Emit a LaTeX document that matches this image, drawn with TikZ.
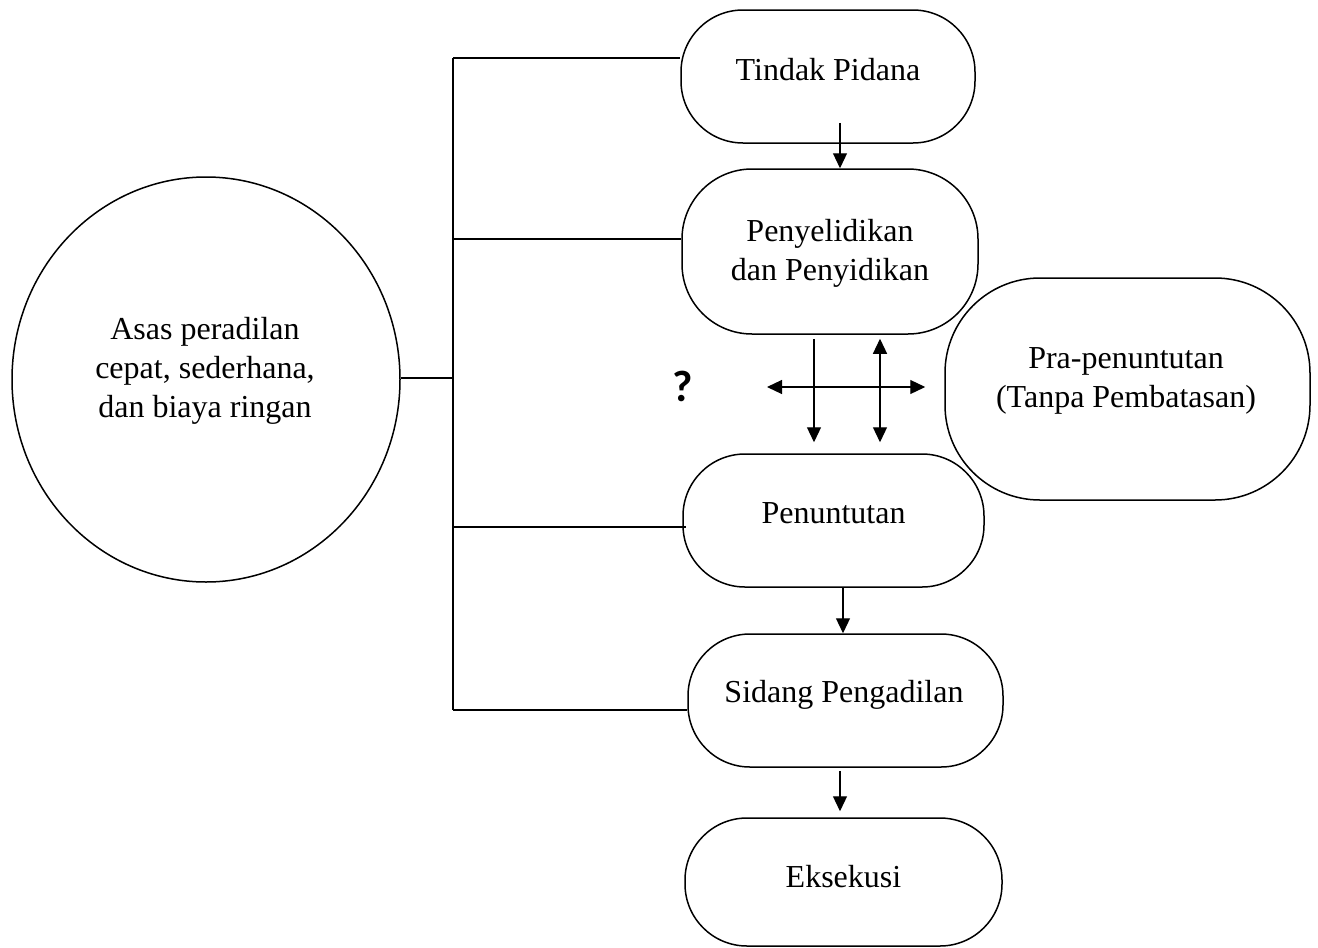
\documentclass[tikz,border=0pt]{standalone}
\usepackage{fontspec}
\setmainfont{Liberation Serif}
\newfontfamily\qfont{Carlito}
\usetikzlibrary{arrows.meta,shapes.geometric}
\begin{document}
\begin{tikzpicture}[x=1pt,y=-1pt,
  box/.style={draw, line width=1.5pt, rounded corners=62pt, inner sep=0pt},
  lbl/.style={font=\fontsize{32}{39}\selectfont, align=center, inner sep=0pt},
  ln/.style={line width=1.2pt},
  arr/.style={line width=1.2pt, -{Triangle[length=15pt,width=14pt]}},
  darr/.style={line width=1.2pt, {Triangle[length=15pt,width=14pt]}-{Triangle[length=15pt,width=14pt]}}]
\useasboundingbox (0,0) rectangle (1318,948);

% boxes
\node[box, minimum width=294pt, minimum height=133pt] (tp) at (828,76.5) {};
\node[box, minimum width=296pt, minimum height=165pt, rounded corners=70pt] (py) at (830,251.5) {};
\node[box, minimum width=365pt, minimum height=222pt, rounded corners=95pt] (pra) at (1127.5,389) {};
\node[box, minimum width=301pt, minimum height=133pt] (pn) at (833.5,520.5) {};
\node[box, minimum width=315pt, minimum height=133pt] (sd) at (845.5,700.5) {};
\node[box, minimum width=317pt, minimum height=128pt] (ek) at (843.5,882) {};
\node[draw, line width=1.5pt, ellipse, minimum width=388pt, minimum height=405pt, inner sep=0pt] (asas) at (206,379.5) {};

% labels
\node[lbl, anchor=base] (tpt) at (828,80) {Tindak Pidana};
\node[lbl] (pyt) at (830,253) {Penyelidikan\\dan Penyidikan};
\node[lbl] (prat) at (1126,380.5) {Pra-penuntutan\\(Tanpa Pembatasan)};
\node[lbl, anchor=base] (pnt) at (833.5,523) {Penuntutan};
\node[lbl, anchor=base] (sdt) at (844,702) {Sidang Pengadilan};
\node[lbl, anchor=base] (ekt) at (843.5,887) {Eksekusi};
\node[lbl] (asast) at (205,371) {Asas peradilan\\cepat, sederhana,\\dan biaya ringan};
\node[font=\qfont\bfseries\fontsize{44}{44}\selectfont, inner sep=0pt] (q) at (683,386) {?};

% left tree
\coordinate (j0) at (453,58);
\coordinate (j1) at (453,239);
\coordinate (j2) at (453,378);
\coordinate (j3) at (453,527);
\coordinate (j4) at (453,710);
\draw[ln] (j0) -- (j4);
\draw[ln] (asas.east |- j2) -- (j2);
\draw[ln] (j0) -- (j0 -| tp.west);
\draw[ln] (j1) -- (j1 -| py.west);
\draw[ln] (j3) -- ([xshift=4pt]j3 -| pn.west);
\draw[ln] (j4) -- (j4 -| sd.west);

% flow arrows
\draw[arr] ([xshift=12pt,yshift=21pt]tp.south) -- ([xshift=10pt]py.north);
\draw[arr] ([xshift=9.5pt]pn.south) -- ([xshift=-2.5pt]sd.north);
\draw[arr] ([xshift=-5.5pt,yshift=-3pt]sd.south) -- ([xshift=-3.5pt,yshift=6pt]ek.north);

% cross arrows
\draw[arr] ([xshift=-16pt,yshift=-4pt]py.south) -- ([xshift=-19.5pt,yshift=11pt]pn.north);
\draw[darr] ([xshift=50pt,yshift=-4pt]py.south) -- ([xshift=46.5pt,yshift=11pt]pn.north);
\coordinate (hl) at (767,387);
\draw[darr] (hl) -- ([xshift=-19pt,yshift=2pt]pra.west);
\end{tikzpicture}
\end{document}
